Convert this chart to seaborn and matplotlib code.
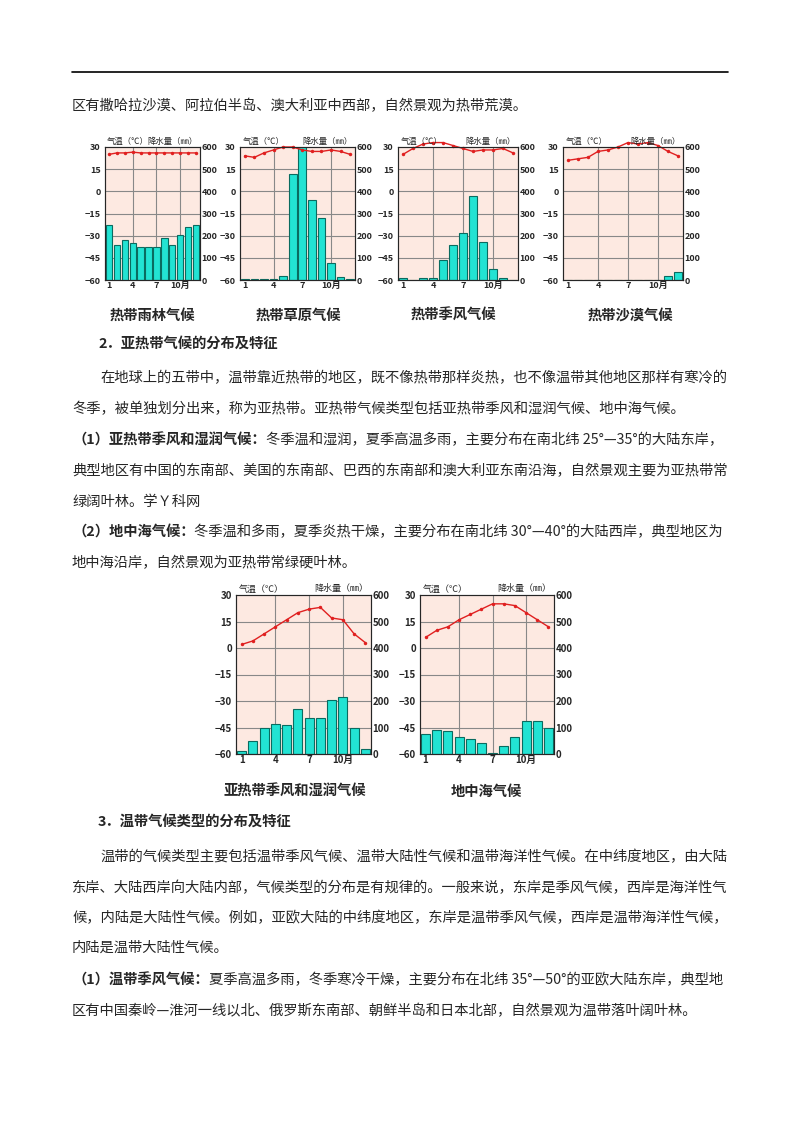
import numpy as np
import pandas as pd
import matplotlib
matplotlib.use('Agg')
import matplotlib.pyplot as plt
import seaborn as sns

sns.set_style('white')
plt.rcParams['font.family'] = ['Noto Sans CJK SC', 'DejaVu Sans']

W, H = 800, 1132
months = list(range(1, 13))
month_labels = ['1', '', '', '4', '', '', '7', '', '', '10月', '', '']

# 气温 (°C) 与 降水量 (mm)
rain_t = [25, 26, 26, 26.5, 26, 26, 26, 26, 26, 26, 26, 26]
rain_p = [250, 160, 180, 165, 150, 150, 150, 190, 160, 205, 240, 250]
sav_t = [24, 23, 26, 28, 30, 30, 28, 27, 27, 28, 27, 25]
sav_p = [5, 5, 5, 5, 20, 480, 620, 360, 280, 75, 15, 5]
mon_t = [25, 29, 32, 33, 33, 31, 29, 27, 28, 28, 29, 26]
mon_p = [8, 0, 8, 8, 90, 160, 210, 380, 170, 50, 8, 0]
des_t = [21, 22, 23, 27, 28, 30, 33, 32, 33, 31, 27, 24]
des_p = [0, 0, 0, 0, 0, 0, 0, 0, 0, 0, 20, 35]
sub_t = [2, 4, 8, 12, 16, 20, 22, 23, 17, 16, 8, 3]
sub_p = [10, 50, 100, 115, 110, 170, 135, 135, 205, 215, 100, 20]
med_t = [6, 10, 12, 16, 19, 22, 25, 25, 24, 20, 16, 12]
med_p = [75, 90, 85, 65, 55, 40, 5, 30, 65, 125, 125, 100]

fig = plt.figure(figsize=(8, 11.32), dpi=100)
renderer = fig.canvas.get_renderer()


def px_axes(x0, y0, x1, y1):
    return fig.add_axes([x0 / W, 1 - y1 / H, (x1 - x0) / W, (y1 - y0) / H])


def climate(box, temp, prec, fs=6.5):
    ax = px_axes(*box)
    ax.set_facecolor('#fde9e1')
    df = pd.DataFrame({'m': months, 'p': prec, 't': temp})
    sns.barplot(data=df, x='m', y='p', ax=ax, color='#22e3d3', edgecolor='#0a6b60',
                linewidth=0.8, width=0.8, saturation=1)
    ax.set_ylim(0, 600)
    ax.set_yticks(range(0, 601, 100))
    ax.set_xlim(-0.5, 11.5)
    ax.set_xticks(range(12))
    ax.set_xticklabels(month_labels)
    for v in [3, 6, 9]:
        ax.axvline(v, color='#888888', lw=0.8, zorder=0.5)
    for v in range(100, 600, 100):
        ax.axhline(v, color='#888888', lw=0.8, zorder=0.5)
    ax.set_xlabel('')
    ax.set_ylabel('')
    for s in ax.spines.values():
        s.set_color('#555555')
        s.set_linewidth(0.8)
    ax2 = ax.twinx()
    sns.lineplot(x=np.arange(12), y=df['t'], ax=ax2, color='#e02020', lw=1,
                 marker='o', markersize=2.5, markeredgewidth=0)
    for ln in ax2.lines:
        ln.set_clip_on(False)
    ax2.set_ylim(-60, 30)
    ax2.set_yticks(range(-60, 31, 15))
    ax2.set_ylabel('')
    ax.yaxis.set_ticks_position('right')
    ax2.yaxis.set_ticks_position('left')
    ax.tick_params(axis='y', labelleft=False, labelright=True)
    ax2.tick_params(axis='y', labelleft=True, labelright=False)
    ax.tick_params(labelsize=fs, length=0, pad=1)
    ax2.tick_params(labelsize=fs, length=0, pad=3)
    for lab in ax.get_xticklabels() + ax.get_yticklabels() + ax2.get_yticklabels():
        lab.set_fontweight('bold')
    ax2.text(0.02, 1.01, '气温（℃）', transform=ax2.transAxes, fontsize=fs - 0.5, va='bottom')
    ax2.text(0.98, 1.01, '降水量（㎜）', transform=ax2.transAxes, fontsize=fs - 0.5,
             va='bottom', ha='right')
    return ax


climate((105, 147, 200, 280), rain_t, rain_p)
climate((240, 147, 355, 280), sav_t, sav_p)
climate((398, 147, 518, 280), mon_t, mon_p)
climate((563, 147, 683, 280), des_t, des_p)
climate((236, 595, 371, 754), sub_t, sub_p, fs=7)
climate((420, 595, 554, 754), med_t, med_p, fs=7)

FS = 10.3


def t(x, y, s, bold=False, size=FS, ha='left'):
    return fig.text(x / W, 1 - y / H, s, fontsize=size, ha=ha, va='center',
                    fontweight='bold' if bold else 'normal')


def t2(x, y, head, rest):
    a = t(x, y, head, bold=True)
    x1 = a.get_window_extent(renderer).x1
    t(x1, y, rest)


fig.add_artist(plt.Line2D([72 / W, 728 / W], [1 - 72 / H] * 2, color='black', lw=1.2))

t(72, 106, '区有撒哈拉沙漠、阿拉伯半岛、澳大利亚中西部，自然景观为热带荒漠。')
for x, s in [(152, '热带雨林气候'), (298, '热带草原气候'), (453, '热带季风气候'), (630, '热带沙漠气候')]:
    t(x, 316, s, bold=True, ha='center')

t(98, 344, '2．亚热带气候的分布及特征', bold=True)
t(100, 378, '在地球上的五带中，温带靠近热带的地区，既不像热带那样炎热，也不像温带其他地区那样有寒冷的')
t(72, 409, '冬季，被单独划分出来，称为亚热带。亚热带气候类型包括亚热带季风和湿润气候、地中海气候。')
t2(72, 440, '（1）亚热带季风和湿润气候：', '冬季温和湿润，夏季高温多雨，主要分布在南北纬 25°—35°的大陆东岸，')
t(72, 471, '典型地区有中国的东南部、美国的东南部、巴西的东南部和澳大利亚东南沿海，自然景观主要为亚热带常')
t(72, 502, '绿阔叶林。学Ｙ科网')
t2(72, 532, '（2）地中海气候：', '冬季温和多雨，夏季炎热干燥，主要分布在南北纬 30°—40°的大陆西岸，典型地区为')
t(72, 563, '地中海沿岸，自然景观为亚热带常绿硬叶林。')
t(295, 792, '亚热带季风和湿润气候', bold=True, ha='center')
t(486, 792, '地中海气候', bold=True, ha='center')

t(98, 822, '3．温带气候类型的分布及特征', bold=True)
t(100, 857, '温带的气候类型主要包括温带季风气候、温带大陆性气候和温带海洋性气候。在中纬度地区，由大陆')
t(72, 888, '东岸、大陆西岸向大陆内部，气候类型的分布是有规律的。一般来说，东岸是季风气候，西岸是海洋性气')
t(72, 918, '候，内陆是大陆性气候。例如，亚欧大陆的中纬度地区，东岸是温带季风气候，西岸是温带海洋性气候，')
t(72, 948, '内陆是温带大陆性气候。')
t2(72, 980, '（1）温带季风气候：', '夏季高温多雨，冬季寒冷干燥，主要分布在北纬 35°—50°的亚欧大陆东岸，典型地')
t(72, 1011, '区有中国秦岭—淮河一线以北、俄罗斯东南部、朝鲜半岛和日本北部，自然景观为温带落叶阔叶林。')

fig.savefig('out.png', dpi=100)
